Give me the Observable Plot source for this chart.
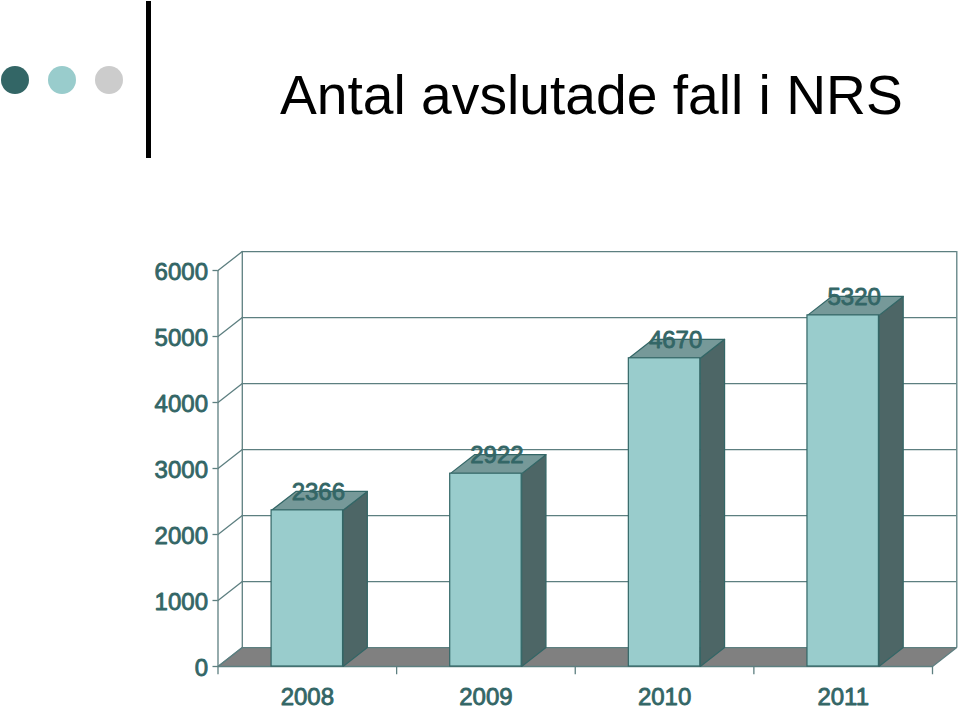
<!DOCTYPE html>
<html><head><meta charset="utf-8">
<script src="https://cdn.jsdelivr.net/npm/d3@7"></script>
<script src="https://cdn.jsdelivr.net/npm/@observablehq/plot@0.6"></script>
<style>
html,body{margin:0;padding:0;background:#fff;overflow:hidden}
#page{position:relative;width:960px;height:709px;font-family:"Liberation Sans",Arial,sans-serif}
#head{position:absolute;left:0;top:0;width:960px;height:240px}
.dot{position:absolute;top:66px;width:28px;height:28px;border-radius:50%}
#rule{position:absolute;left:146px;top:1px;width:5px;height:157px;background:#000}
h1{position:absolute;left:280px;top:62px;margin:0;font-weight:normal;font-size:55.2px;line-height:66px;color:#000;white-space:nowrap}
#chart{position:absolute;left:0;top:240px}
svg{display:block}
</style></head>
<body><div id="page">
<div id="head">
<div class="dot" style="left:1px;background:#336666"></div>
<div class="dot" style="left:48px;background:#99cccc"></div>
<div class="dot" style="left:95px;background:#cccccc"></div>
<div id="rule"></div>
<h1>Antal avslutade fall i NRS</h1>
</div>
<div id="chart"></div>
</div>
<script>
const years = ["2008", "2009", "2010", "2011"];
const counts = [2366, 2922, 4670, 5320];
const yTicks = [0, 1000, 2000, 3000, 4000, 5000, 6000];

const depthX = 0.136, depthY = 287;
const barPad = 0.3;
const n = years.length;
const yMax = 6000;
const line = "#5d7f80", dark = "#336666";

const bars = years.map((year, i) => ({year, value: counts[i], x1: i + barPad, x2: i + 1 - barPad}));
const poly = (id, pts) => pts.map(([x, y]) => ({id, x, y}));

const floor = poly("floor", [[0, 0], [n, 0], [n + depthX, depthY], [depthX, depthY]]);
const sides = bars.flatMap(b => poly(b.year, [[b.x2, 0], [b.x2 + depthX, depthY], [b.x2 + depthX, b.value + depthY], [b.x2, b.value]]));
const tops = bars.flatMap(b => poly(b.year, [[b.x1, b.value], [b.x2, b.value], [b.x2 + depthX, b.value + depthY], [b.x1 + depthX, b.value + depthY]]));
const leftWall = yTicks.flatMap(v => poly("w" + v, [[0, v], [depthX, v + depthY]]));

const plot = Plot.plot({
  width: 960, height: 469,
  marginLeft: 217.5, marginRight: 28, marginTop: 30, marginBottom: 43,
  style: {fontFamily: '"Liberation Sans", Arial, sans-serif', color: dark, background: "#fff", overflow: "visible"},
  x: {domain: [0, n], axis: null},
  y: {domain: [0, yMax], axis: null},
  marks: [
    Plot.line(floor, {x: "x", y: "y", z: "id", fill: "#808080", stroke: line, strokeWidth: 1.2, curve: "linear-closed"}),
    Plot.ruleY(yTicks.filter(v => v > 0), {x1: depthX, x2: n + depthX, y: v => v + depthY, stroke: line, strokeWidth: 1.3}),
    Plot.ruleX([0], {y1: 0, y2: yMax, stroke: line, strokeWidth: 1.3}),
    Plot.ruleX([depthX, n + depthX], {y1: depthY, y2: yMax + depthY, stroke: line, strokeWidth: 1.3}),
    Plot.line(leftWall, {x: "x", y: "y", z: "id", stroke: line, strokeWidth: 1.3}),
    Plot.ruleX(d3.range(n + 1), {y1: 0, y2: -125, stroke: line, strokeWidth: 1.3}),
    Plot.ruleY([0], {x1: 0, x2: n, stroke: line, strokeWidth: 1.3}),
    Plot.line(sides, {x: "x", y: "y", z: "id", fill: "#4d6666", stroke: dark, strokeWidth: 1.2, curve: "linear-closed"}),
    Plot.line(tops, {x: "x", y: "y", z: "id", fill: "#769999", stroke: dark, strokeWidth: 1.2, curve: "linear-closed"}),
    Plot.rect(bars, {x1: "x1", x2: "x2", y1: 0, y2: "value", fill: "#99cccc", stroke: dark, strokeWidth: 1.2}),
    Plot.axisY({ticks: yTicks, tickFormat: d3.format("d"), tickSize: 5, stroke: line, strokeWidth: 1.3, text: null}),
    Plot.text(yTicks, {x: 0, y: d => d, text: d => String(d), textAnchor: "end", dx: -10, dy: 1.5, fontSize: 24, fill: dark, stroke: dark, strokeWidth: 0.85}),
    Plot.text(bars, {x: b => (b.x1 + b.x2) / 2, y: "value", text: b => String(b.value), dx: 11, dy: -18, fontSize: 24, fill: dark, stroke: dark, strokeWidth: 0.85}),
    Plot.text(bars, {x: b => (b.x1 + b.x2) / 2, y: 0, text: "year", dy: 30.5, fontSize: 24, fill: dark, stroke: dark, strokeWidth: 0.85})
  ]
});
document.getElementById("chart").append(plot);
</script>
</body></html>
